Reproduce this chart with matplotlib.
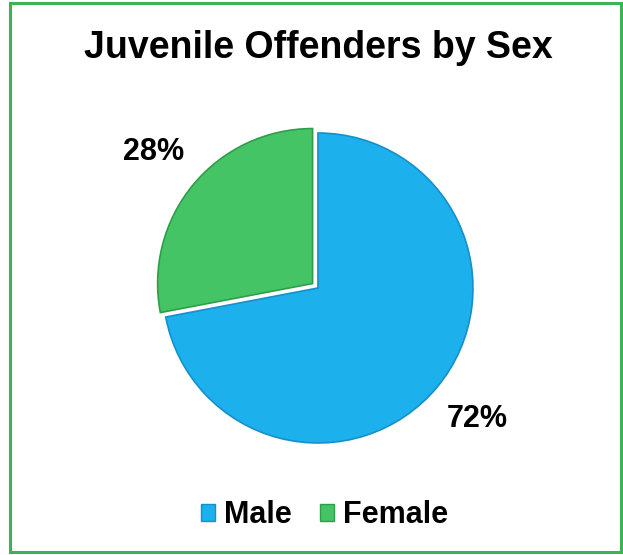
import matplotlib
matplotlib.use("Agg")
import matplotlib.pyplot as plt
from matplotlib.patches import Rectangle

labels = ["Male", "Female"]
shares = [72, 28]
colors = ["#1cb0ec", "#45c465"]
edge_colors = ["#1590cc", "#2f9e4c"]

plt.rcParams["font.family"] = ["Liberation Sans", "DejaVu Sans"]

fig = plt.figure(figsize=(6.23, 5.55), dpi=100)

# pie axes, radius 1 -> ~155 px
ax = fig.add_axes([0.1372, 0.0622, 0.7464, 0.8378])
wedges, texts, autotexts = ax.pie(
    shares,
    colors=colors,
    startangle=90,
    counterclock=False,
    explode=[0, 0.045],
    autopct="%d%%",
    pctdistance=1.33,
    wedgeprops=dict(linewidth=1.2),
    textprops=dict(fontsize=22, fontweight="bold", color="black"),
)
for w, ec in zip(wedges, edge_colors):
    w.set_edgecolor(ec)
ax.set_xlim(-1.5, 1.5)
ax.set_ylim(-1.5, 1.5)
ax.set_aspect("equal")
ax.axis("off")

fig.text(318 / 623, 1 - 48 / 555, "Juvenile Offenders by Sex",
         ha="center", va="center", fontsize=27, fontweight="bold")

handles = [Rectangle((0, 0), 1, 1, facecolor=c, edgecolor=ec, linewidth=1)
           for c, ec in zip(colors, edge_colors)]
fig.legend(handles, labels, loc="center", bbox_to_anchor=(0.521, 1 - 515 / 555),
           ncol=2, frameon=False, handlelength=0.48, handleheight=0.48,
           handletextpad=0.3, columnspacing=0.9,
           prop=dict(size=22, weight="bold"))

# green frame around the chart
fig.patches.append(Rectangle((10 / 623, 3 / 555), 611 / 623, 549 / 555,
                             transform=fig.transFigure, fill=False,
                             edgecolor="#3cb454", linewidth=2.2))

fig.savefig("out.png", dpi=100)
